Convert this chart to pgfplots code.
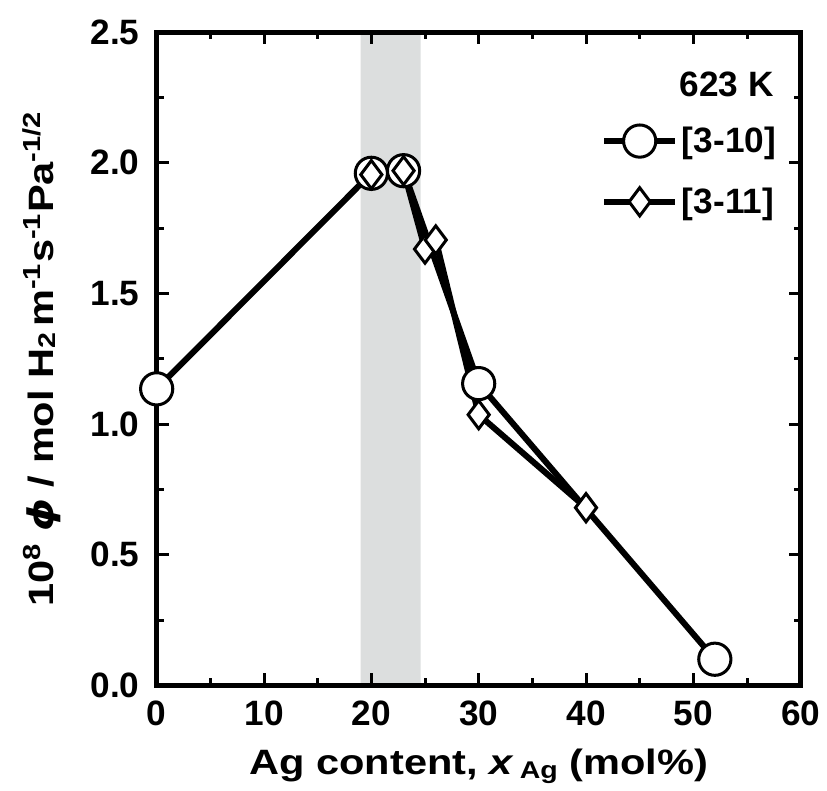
\documentclass[border=0pt]{standalone}
\usepackage{fontspec}
\setmainfont{Liberation Sans}
\newfontfamily\labelfont[FakeStretch=1.18]{Liberation Sans}
\newfontfamily\dejavu[FakeStretch=1.18]{DejaVu Sans}
\usepackage{pgfplots}
\pgfplotsset{compat=1.18}

\definecolor{band}{HTML}{DCDEDE}

\begin{document}
\begin{tikzpicture}
\begin{axis}[
  scale only axis,
  width=320pt,
  height=324.5pt,
  xmin=0, xmax=60,
  ymin=0, ymax=2.5,
  xtick={0,10,...,60},
  ytick={0,0.5,...,2.5},
  minor x tick num=1,
  minor y tick num=1,
  tick align=inside,
  major tick length=6pt,
  minor tick length=3.5pt,
  every tick/.style={line width=1.5pt,black},
  axis line style={line width=2.5pt},
  axis on top,
  /pgf/number format/assume math mode=true,
  yticklabel style={xshift=-5pt,/pgf/number format/.cd,fixed,fixed zerofill,precision=1},
  xticklabel style={yshift=-4pt},
  ticklabel style={font=\fontsize{17.5}{18}\selectfont\bfseries},
  xlabel={Ag content, \textit{x}\,{\fontsize{12}{13}\selectfont\raisebox{-0.3ex}{Ag}} (mol\%)},
  ylabel={10\textsuperscript{8} {\dejavu\bfseries\itshape ϕ} / mol H{\fontsize{12}{13}\selectfont\raisebox{-0.2ex}{2}}\,m\textsuperscript{-1}s\textsuperscript{-1}Pa\textsuperscript{-1/2}},
  label style={font=\labelfont\fontsize{17.5}{18}\selectfont\bfseries},
  xlabel style={yshift=-5pt},
  ylabel style={yshift=8pt},
  legend style={draw=none,fill=none,at={(0.69,0.862)},anchor=north west,
    font=\fontsize{17.5}{18}\selectfont\bfseries,row sep=12pt,
    inner sep=0pt,cells={anchor=west}},
  legend image code/.code={
    \draw[mark repeat=2,mark phase=2] plot coordinates {(0pt,0pt)(17.5pt,0pt)(35pt,0pt)};},
]
\addplot[fill=band,draw=none,forget plot] coordinates {(19,0) (24.6,0) (24.6,2.5) (19,2.5)} \closedcycle;

\addplot[black,line width=3pt,mark=*,
  mark options={fill=white,line width=1.5pt,solid},mark size=8pt]
  coordinates {(0,1.135) (20,1.96) (23,1.97) (30,1.155) (52,0.10)};
\addlegendentry{[3-10]}

\addplot[black,line width=3pt,mark=diamond*,
  mark options={fill=white,line width=1.5pt,solid},mark size=7pt]
  coordinates {(20,1.955) (23,1.97) (25,1.67) (26,1.705) (30,1.036) (40,0.68)};
\addlegendentry{[3-11]}

\node[font=\fontsize{17.5}{18}\selectfont\bfseries] at (axis cs:53.1,2.30) {623 K};
\end{axis}
\path ([yshift=6.5pt]current bounding box.north);
\path ([xshift=-8pt]current bounding box.west);
\end{tikzpicture}
\end{document}
